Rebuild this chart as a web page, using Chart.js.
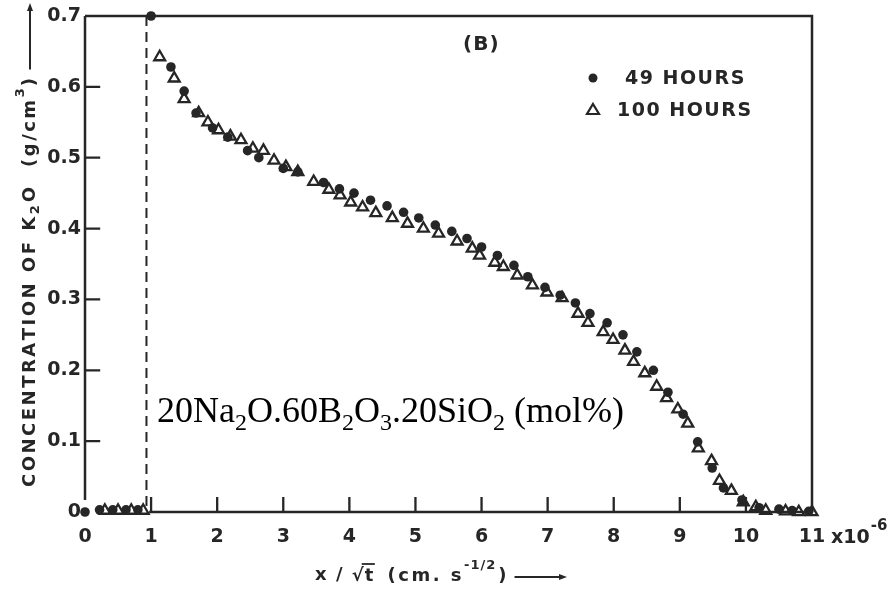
<!DOCTYPE html>
<html>
<head>
<meta charset="utf-8">
<title>K2O concentration profile (B)</title>
<script src="https://cdn.jsdelivr.net/npm/chart.js@4.4.1/dist/chart.umd.min.js"></script>
<style>
  html, body { margin: 0; padding: 0; background: #ffffff; }
  #wrap { width: 895px; height: 598px; }
</style>
</head>
<body>
<div id="wrap"><canvas id="chart" width="895" height="598"></canvas></div>
<script>
// --- data (x in units of 1e-6 cm s^-1/2, y in g/cm3) ---
const hours49X = [0, 0.22, 0.42, 0.62, 0.8, 1.0, 1.3, 1.5, 1.68, 1.93, 2.16, 2.46, 2.63, 3.0, 3.22,
  3.61, 3.85, 4.07, 4.32, 4.57, 4.82, 5.05, 5.3, 5.55, 5.78, 6.0, 6.24, 6.49, 6.7, 6.96,
  7.19, 7.42, 7.64, 7.9, 8.14, 8.35, 8.6, 8.82, 9.05, 9.27, 9.49, 9.66, 9.94, 10.2, 10.5, 10.7, 10.95];
const hours49Y = [0, 0.003, 0.003, 0.003, 0.003, 0.70, 0.628, 0.594, 0.563, 0.542, 0.529, 0.51, 0.5, 0.485, 0.48,
  0.465, 0.456, 0.45, 0.44, 0.432, 0.423, 0.415, 0.405, 0.396, 0.386, 0.374, 0.362, 0.348, 0.332, 0.317,
  0.306, 0.295, 0.28, 0.267, 0.25, 0.226, 0.2, 0.169, 0.138, 0.099, 0.062, 0.034, 0.017, 0.006, 0.004, 0.002, 0.001];

const hours100X = [0.3, 0.5, 0.7, 0.88, 1.13, 1.35, 1.5, 1.72, 1.86, 2.02, 2.2, 2.36, 2.54, 2.7, 2.86,
  3.04, 3.22, 3.46, 3.69, 3.86, 4.02, 4.2, 4.4, 4.65, 4.88, 5.12, 5.35, 5.63, 5.86, 5.97, 6.2, 6.33,
  6.54, 6.77, 6.99, 7.22, 7.46, 7.61, 7.84, 7.99, 8.17, 8.3, 8.47, 8.65, 8.8, 8.97, 9.12, 9.28,
  9.48, 9.6, 9.78, 9.96, 10.15, 10.3, 10.6, 10.8, 11.0];
const hours100Y = [0.002, 0.002, 0.002, 0.002, 0.642, 0.612, 0.583, 0.563, 0.55, 0.539, 0.53, 0.525, 0.513, 0.51, 0.496,
  0.487, 0.48, 0.466, 0.455, 0.447, 0.437, 0.43, 0.422, 0.415, 0.407, 0.4, 0.393, 0.382, 0.372, 0.362, 0.352, 0.346,
  0.334, 0.32, 0.31, 0.302, 0.28, 0.267, 0.254, 0.243, 0.228, 0.212, 0.196, 0.177, 0.161, 0.145, 0.125, 0.09,
  0.072, 0.044, 0.03, 0.014, 0.007, 0.002, 0.001, 0, 0];

const interfaceX = [0.93, 0.93];   // dashed original-surface line
const interfaceY = [0.7, 0];

const xTicks = [0, 1, 2, 3, 4, 5, 6, 7, 8, 9, 10, 11];
const yTicks = [0, 0.1, 0.2, 0.3, 0.4, 0.5, 0.6, 0.7];
const yTickLabels = ['0', '0.1', '0.2', '0.3', '0.4', '0.5', '0.6', '0.7'];
const seriesLabels = ['49 HOURS', '100 HOURS'];

const ink = '#262626';
const sans = '"DejaVu Sans", sans-serif';
const serif = '"Liberation Serif", "DejaVu Serif", serif';

// inward tick length in axis units (about 15px)
const tickLenX = 0.23;
const tickLenY = 0.021;

const toPoints = (xs, ys) => xs.map((x, i) => ({ x: x, y: ys[i] }));

// short segments for inner tick marks, broken by null gaps
function yTickSegments() {
  const out = [];
  yTicks.slice(1, -1).forEach(v => {
    out.push({ x: 0, y: v }, { x: tickLenX, y: v }, { x: tickLenX, y: null });
  });
  return out;
}
function xTickSegments() {
  const out = [];
  xTicks.slice(1, -1).forEach(v => {
    out.push({ x: v, y: 0 }, { x: v, y: tickLenY }, { x: v, y: null });
  });
  return out;
}

// draw a string char by char with extra letter spacing, return end x
function spaced(ctx, str, x, y, gap) {
  for (const ch of str) {
    ctx.fillText(ch, x, y);
    x += ctx.measureText(ch).width + gap;
  }
  return x;
}

function arrow(ctx, x0, x1, y, head) {
  ctx.beginPath();
  ctx.moveTo(x0, y);
  ctx.lineTo(x1 - head, y);
  ctx.stroke();
  ctx.beginPath();
  ctx.moveTo(x1, y);
  ctx.lineTo(x1 - head * 1.6, y - head * 0.6);
  ctx.lineTo(x1 - head * 1.6, y + head * 0.6);
  ctx.closePath();
  ctx.fill();
}

const framePlugin = {
  id: 'frame',
  beforeDatasetsDraw(chart) {
    const { ctx, scales: { x, y } } = chart;
    const px = v => x.getPixelForValue(v);
    const py = v => y.getPixelForValue(v);
    const left = px(0), bottom = py(0);
    ctx.save();
    ctx.strokeStyle = ink;
    ctx.lineWidth = 2.5;
    ctx.beginPath();
    // left axis stops just above zero
    ctx.moveTo(left, py(0.7));
    ctx.lineTo(left, py(0.017));
    // top and right
    ctx.moveTo(left, py(0.7));
    ctx.lineTo(px(11), py(0.7));
    ctx.lineTo(px(11), bottom);
    // bottom axis starts at 1
    ctx.moveTo(px(0.97), bottom);
    ctx.lineTo(px(11), bottom);
    ctx.stroke();
    ctx.restore();
  },
  afterDraw(chart) {
    const { ctx } = chart;
    ctx.save();
    ctx.fillStyle = ink;
    ctx.strokeStyle = ink;
    ctx.textBaseline = 'middle';
    ctx.textAlign = 'left';

    // x10^-6 after last tick
    ctx.font = 'bold 19px ' + sans;
    const cx = spaced(ctx, 'x10', 831, 538, 0);
    ctx.font = 'bold 15px ' + sans;
    spaced(ctx, '-6', cx + 1, 526, 0);

    // (B)
    ctx.font = 'bold 20px ' + sans;
    spaced(ctx, '(B)', 463, 45, 1);

    // legend
    ctx.beginPath();
    ctx.arc(593, 78, 4.5, 0, Math.PI * 2);
    ctx.fill();
    ctx.font = 'bold 19px ' + sans;
    spaced(ctx, seriesLabels[0], 625, 79, 1.5);
    ctx.lineWidth = 2.2;
    ctx.beginPath();
    ctx.moveTo(593, 104);
    ctx.lineTo(599, 114);
    ctx.lineTo(587, 114);
    ctx.closePath();
    ctx.stroke();
    spaced(ctx, seriesLabels[1], 617, 111, 1.5);

    // x axis title
    ctx.font = 'bold 18px ' + sans;
    let tx = spaced(ctx, 'x / ', 315, 575, 1.5);
    tx = spaced(ctx, '\u221A', tx, 576, 0);
    const tStart = tx;
    tx = spaced(ctx, 't', tx + 1, 576, 1.5);
    ctx.lineWidth = 1.8;
    ctx.beginPath();
    ctx.moveTo(tStart - 2, 564);
    ctx.lineTo(tx, 564);
    ctx.stroke();
    tx = spaced(ctx, ' (cm. s', tx + 4, 576, 2.5);
    ctx.font = 'bold 13px ' + sans;
    tx = spaced(ctx, '-1/2', tx, 566, 1);
    ctx.font = 'bold 18px ' + sans;
    tx = spaced(ctx, ')', tx + 2, 576, 0);
    ctx.lineWidth = 2;
    arrow(ctx, tx + 8, 567, 577, 5);

    // y axis title, rotated
    ctx.translate(30, 487);
    ctx.rotate(-Math.PI / 2);
    ctx.font = 'bold 18px ' + sans;
    let ty = spaced(ctx, 'CONCENTRATION OF K', 0, 0, 2.5);
    ctx.font = 'bold 13px ' + sans;
    ty = spaced(ctx, '2', ty, 6, 2);
    ctx.font = 'bold 18px ' + sans;
    ty = spaced(ctx, 'O  (g/cm', ty + 1, 0, 2.5);
    ctx.font = 'bold 13px ' + sans;
    ty = spaced(ctx, '3', ty, -9, 2);
    ctx.font = 'bold 18px ' + sans;
    ty = spaced(ctx, ')', ty, 0, 2.5);
    arrow(ctx, ty + 6, 484, 0, 5);
    ctx.restore();

    // composition label (serif, subscripts)
    ctx.save();
    ctx.fillStyle = '#000000';
    ctx.textBaseline = 'alphabetic';
    const parts = [['20Na', 0], ['2', 1], ['O.60B', 0], ['2', 1], ['O', 0], ['3', 1],
      ['.20SiO', 0], ['2', 1], [' (mol%)', 0]];
    const big = 36, small = 24;
    let lx = 157;
    parts.forEach(p => {
      ctx.font = (p[1] ? small : big) + 'px ' + serif;
      ctx.fillText(p[0], lx, p[1] ? 430 : 422);
      lx += ctx.measureText(p[0]).width;
    });
    ctx.restore();
  }
};

const chart = new Chart(document.getElementById('chart'), {
  type: 'scatter',
  data: {
    datasets: [
      {
        label: seriesLabels[1],
        data: toPoints(hours100X, hours100Y),
        pointStyle: 'triangle',
        pointRadius: 6.3,
        borderWidth: 2.3,
        borderColor: ink,
        backgroundColor: 'rgba(255,255,255,0)',
        clip: false
      },
      {
        label: seriesLabels[0],
        data: toPoints(hours49X, hours49Y),
        pointStyle: 'circle',
        pointRadius: 4.8,
        borderWidth: 0,
        backgroundColor: ink,
        clip: false
      },
      {
        label: 'interface',
        data: toPoints(interfaceX, interfaceY),
        showLine: true,
        borderColor: ink,
        borderWidth: 2,
        borderDash: [10, 6],
        pointRadius: 0,
        clip: false
      },
      {
        label: 'y ticks',
        data: yTickSegments(),
        showLine: true,
        spanGaps: false,
        borderColor: ink,
        borderWidth: 2.3,
        pointRadius: 0,
        clip: false
      },
      {
        label: 'x ticks',
        data: xTickSegments(),
        showLine: true,
        spanGaps: false,
        borderColor: ink,
        borderWidth: 2.3,
        pointRadius: 0,
        clip: false
      }
    ]
  },
  options: {
    responsive: false,
    animation: false,
    devicePixelRatio: 1,
    layout: { padding: { top: 16, right: 83, bottom: 0, left: 0 } },
    plugins: {
      legend: { display: false },
      tooltip: { enabled: false }
    },
    scales: {
      x: {
        type: 'linear',
        min: 0,
        max: 11,
        afterBuildTicks: s => { s.ticks = xTicks.map(v => ({ value: v })); },
        afterFit: s => { s.height = 598 - 512; },
        grid: { display: false, drawTicks: false },
        border: { display: false },
        ticks: {
          padding: 14,
          maxRotation: 0,
          autoSkip: false,
          color: ink,
          font: { family: sans, size: 19, weight: 'bold' },
          callback: v => String(v)
        }
      },
      y: {
        type: 'linear',
        min: 0,
        max: 0.7,
        afterBuildTicks: s => { s.ticks = yTicks.map(v => ({ value: v })); },
        afterFit: s => { s.width = 85; },
        grid: { display: false, drawTicks: false },
        border: { display: false },
        ticks: {
          padding: 4,
          autoSkip: false,
          color: ink,
          font: { family: sans, size: 19, weight: 'bold' },
          callback: v => yTickLabels[yTicks.indexOf(v)]
        }
      }
    }
  },
  plugins: [framePlugin]
});
</script>
</body>
</html>
